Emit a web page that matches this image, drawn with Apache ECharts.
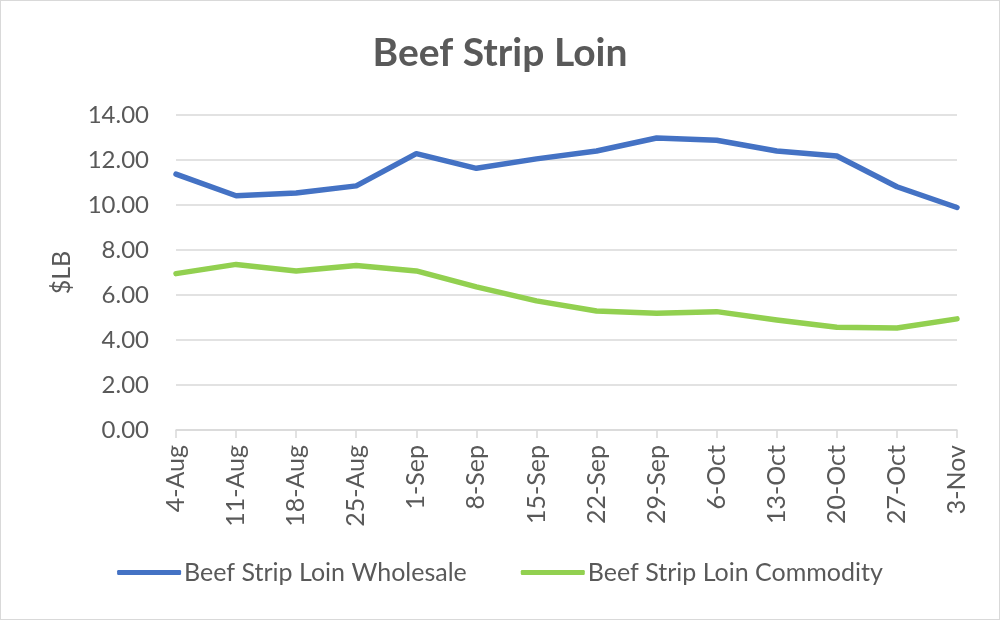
<!DOCTYPE html>
<html>
<head>
<meta charset="utf-8">
<script src="https://cdn.jsdelivr.net/npm/echarts@6/dist/echarts.min.js"></script>
<style>
html,body{margin:0;padding:0;background:#fff;}
#chart{width:1000px;height:620px;box-sizing:border-box;border:1px solid #d9d9d9;}
</style>
</head>
<body>
<div id="chart"></div>
<script>
var categories = ['4-Aug','11-Aug','18-Aug','25-Aug','1-Sep','8-Sep','15-Sep','22-Sep','29-Sep','6-Oct','13-Oct','20-Oct','27-Oct','3-Nov'];
var wholesale = [11.37, 10.41, 10.53, 10.85, 12.28, 11.63, 12.05, 12.40, 12.98, 12.88, 12.40, 12.18, 10.81, 9.89];
var commodity = [6.95, 7.36, 7.07, 7.31, 7.07, 6.36, 5.74, 5.29, 5.19, 5.26, 4.89, 4.57, 4.53, 4.94];
var yTicks = { min: 0, max: 14, interval: 2 };

var font = 'Lato, "Liberation Sans", sans-serif';
var chart = echarts.init(document.getElementById('chart'));
chart.setOption({
  animation: false,
  title: {
    text: 'Beef Strip Loin',
    left: 'center',
    top: 28,
    textStyle: { fontFamily: font, fontSize: 39, fontWeight: 'bold', color: '#595959' }
  },
  legend: {
    bottom: 29,
    left: 'center',
    itemGap: 54,
    itemWidth: 64,
    itemHeight: 5,
    icon: 'roundRect',
    textStyle: { fontFamily: font, fontSize: 25, color: '#595959', padding: [0, 0, 0, -2] },
    data: ['Beef Strip Loin Wholesale', 'Beef Strip Loin Commodity']
  },
  grid: { left: 175, right: 42, top: 114, bottom: 189, containLabel: false },
  xAxis: {
    type: 'category',
    data: categories,
    boundaryGap: false,
    axisLine: { lineStyle: { color: '#d9d9d9', width: 1.5 } },
    axisTick: { show: true, length: 8, alignWithLabel: true, lineStyle: { color: '#d9d9d9', width: 1.5 } },
    axisLabel: { rotate: 90, margin: 15, fontFamily: font, fontSize: 25, color: '#595959', interval: 0 }
  },
  yAxis: {
    type: 'value',
    min: yTicks.min,
    max: yTicks.max,
    interval: yTicks.interval,
    name: '$LB',
    nameLocation: 'middle',
    nameGap: 102,
    nameRotate: 90,
    nameTextStyle: { fontFamily: font, fontSize: 25, color: '#595959' },
    axisLine: { show: false },
    axisTick: { show: false },
    axisLabel: {
      margin: 27,
      fontFamily: font, fontSize: 24, color: '#595959',
      formatter: function (v) { return v.toFixed(2); }
    },
    splitLine: { lineStyle: { color: '#d9d9d9', width: 1.5 } }
  },
  series: [
    {
      name: 'Beef Strip Loin Wholesale',
      type: 'line',
      data: wholesale,
      symbol: 'none',
      lineStyle: { color: '#4472C4', width: 5.5, cap: 'round', join: 'round' },
      itemStyle: { color: '#4472C4' }
    },
    {
      name: 'Beef Strip Loin Commodity',
      type: 'line',
      data: commodity,
      symbol: 'none',
      lineStyle: { color: '#92D050', width: 5.5, cap: 'round', join: 'round' },
      itemStyle: { color: '#92D050' }
    }
  ]
});
</script>
</body>
</html>
